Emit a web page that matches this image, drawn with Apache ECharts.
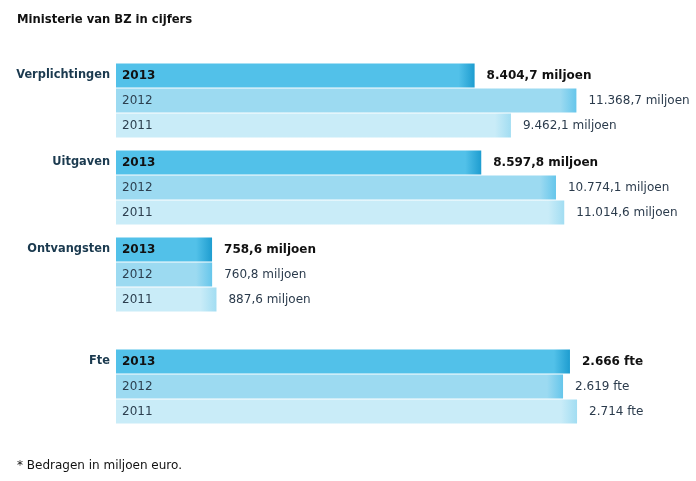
<!DOCTYPE html>
<html><head><meta charset="utf-8">
<script src="https://cdn.jsdelivr.net/npm/echarts@6/dist/echarts.min.js"></script>
<style>html,body{margin:0;padding:0;background:#fff}#c{width:696px;height:481px}</style>
</head><body><div id="c"></div>
<script>
const groups = ['Verplichtingen', 'Uitgaven', 'Ontvangsten', 'Fte'];
const years = ['2013', '2012', '2011'];
const verplichtingen = [8404.7, 11368.7, 9462.1];
const uitgaven = [8597.8, 10774.1, 11014.6];
const ontvangsten = [758.6, 760.8, 887.6];
const fte = [2666, 2619, 2714];
const units = ['miljoen', 'miljoen', 'miljoen', 'fte'];
const decimals = [1, 1, 1, 0];
const groupValues = [verplichtingen, uitgaven, ontvangsten, fte];
const titleText = 'Ministerie van BZ in cijfers';
const footText = '* Bedragen in miljoen euro.';

const gridTops = [63, 150, 237, 349];
const GRID_LEFT = 116, GRID_W = 482, ROW = 25;
// each bar starts with a fixed label area (in pixels) before its value part
const euroAxis = { leadPx: 70, max: 14036 };
const fteAxis = { leadPx: 61, max: 3270 };
const axes = [euroAxis, euroAxis, euroAxis, fteAxis];
const font = '"DejaVu Sans", Verdana, sans-serif';

const baseColors = ['#52c1e9', '#9cdaf1', '#c9ecf8'];
const endColors = ['#1e9dd0', '#66c6eb', '#a2ddf2'];

function fmt(v, d) {
  const s = v.toFixed(d);
  let [i, f] = s.split('.');
  i = i.replace(/\B(?=(\d{3})+(?!\d))/g, '.');
  return f ? i + ',' + f : i;
}

const grid = [], xAxis = [], yAxis = [], series = [];
groups.forEach((g, gi) => {
  const ax = axes[gi];
  const pxPerUnit = GRID_W / ax.max;
  const lead = ax.leadPx / pxPerUnit;
  grid.push({ left: GRID_LEFT, top: gridTops[gi], width: GRID_W, height: ROW * years.length });
  xAxis.push({ type: 'value', gridIndex: gi, min: 0, max: ax.max, show: false });
  yAxis.push({
    type: 'category', gridIndex: gi, data: years, inverse: true, z: 10, position: 'left',
    axisLine: { show: false }, axisTick: { show: false }, splitLine: { show: false },
    axisLabel: {
      inside: true, margin: 6, fontFamily: font, fontSize: 12,
      formatter: (v, idx) => idx === 0 ? '{b|' + v + '}' : '{n|' + v + '}',
      rich: {
        b: { fontFamily: font, fontSize: 12, fontWeight: 'bold', color: '#111111' },
        n: { fontFamily: font, fontSize: 12, color: '#2c3f4f' }
      }
    }
  });
  yAxis.push({
    type: 'category', gridIndex: gi, data: [g, '', ''], inverse: true, position: 'left',
    axisLine: { show: false }, axisTick: { show: false }, splitLine: { show: false },
    axisLabel: { margin: 6, fontFamily: font, fontSize: 11.4, fontWeight: 'bold', color: '#1b3a4f' }
  });
  const vals = groupValues[gi];
  const stackId = 's' + gi;
  series.push({
    type: 'bar', xAxisIndex: gi, yAxisIndex: gi * 2, barWidth: 24, stack: stackId,
    animation: false, silent: true,
    data: vals.map((v, i) => ({ value: lead, itemStyle: { color: baseColors[i] } })),
    label: { show: false }
  });
  series.push({
    type: 'bar', xAxisIndex: gi, yAxisIndex: gi * 2, barWidth: 24, stack: stackId,
    animation: false,
    data: vals.map((v, i) => {
      const w = v * pxPerUnit;
      const s = Math.max(0, 1 - 16 / w);
      return {
        value: v,
        itemStyle: {
          color: new echarts.graphic.LinearGradient(0, 0, 1, 0, [
            { offset: 0, color: baseColors[i] },
            { offset: s, color: baseColors[i] },
            { offset: 1, color: endColors[i] }
          ])
        }
      };
    }),
    label: {
      show: true, position: 'right', distance: 12, fontFamily: font, fontSize: 12,
      formatter: p => {
        const t = fmt(p.value, decimals[gi]) + ' ' + units[gi];
        return p.dataIndex === 0 ? '{b|' + t + '}' : '{n|' + t + '}';
      },
      rich: {
        b: { fontFamily: font, fontSize: 12, fontWeight: 'bold', color: '#111111' },
        n: { fontFamily: font, fontSize: 12, color: '#2b3b4c' }
      }
    }
  });
});

const chart = echarts.init(document.getElementById('c'));
chart.setOption({
  backgroundColor: '#ffffff',
  animation: false,
  title: [
    { text: titleText, left: 17, top: 14, padding: 0, textStyle: { fontFamily: font, fontSize: 11.6, fontWeight: 'bold', color: '#111111' } },
    { text: footText, left: 17, top: 460, padding: 0, textStyle: { fontFamily: font, fontSize: 12, fontWeight: 'normal', color: '#111111' } }
  ],
  grid, xAxis, yAxis, series
});
</script></body></html>
